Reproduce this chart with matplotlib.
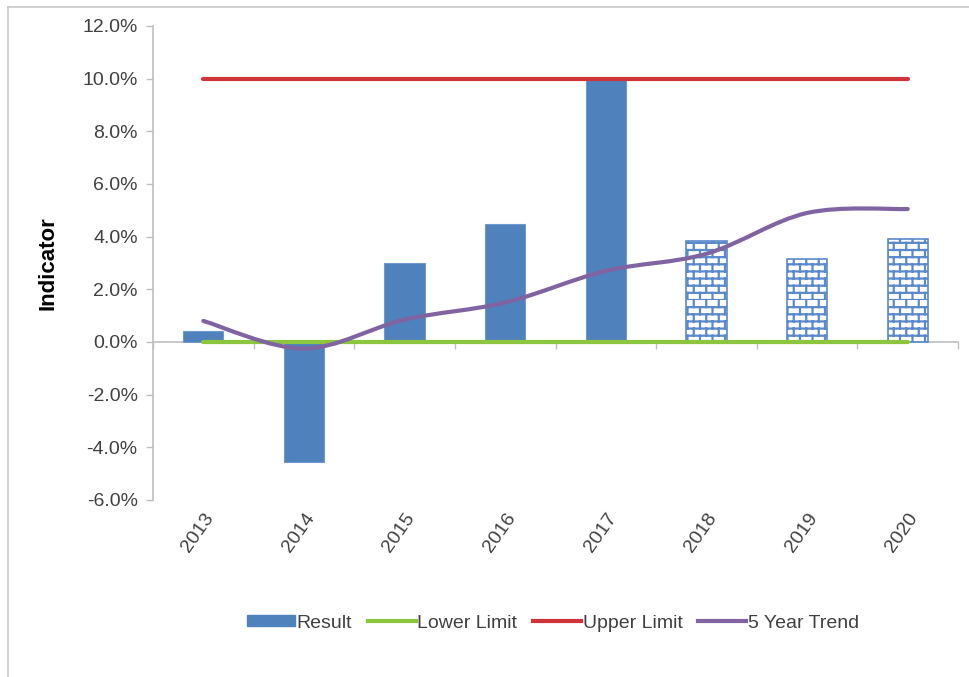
import numpy as np
import matplotlib
matplotlib.use("Agg")
import matplotlib.pyplot as plt
from matplotlib import hatch as mhatch
from matplotlib.path import Path
from matplotlib.patches import PathPatch, Patch
from matplotlib.lines import Line2D
from matplotlib.ticker import FuncFormatter, FixedLocator

# ---- data -------------------------------------------------------------
years = ["2013", "2014", "2015", "2016", "2017", "2018", "2019", "2020"]
result = [0.40, -4.55, 3.00, 4.47, 10.00, 3.83, 3.14, 3.90]       # %
projected = [False, False, False, False, False, True, True, True]
lower_limit = [0.0] * 8
upper_limit = [10.0] * 8
trend = [0.80, -0.25, 0.85, 1.50, 2.70, 3.35, 4.90, 5.05]         # %
y_ticks = [-6, -4, -2, 0, 2, 4, 6, 8, 10, 12]

BLUE = "#4F81BD"
GREEN = "#8CC63F"
RED = "#D13438"
PURPLE = "#8064A2"
TEXT = "#404040"
AXIS = "#BFBFBF"
FS = 14


# ---- brick hatch used for projected years -----------------------------
class BrickHatch(mhatch.HatchPatternBase):
    """Running-bond brick pattern, selected with the '+' hatch char."""

    def __init__(self, hatch, density):
        n = hatch.count("+")
        self.rows = 14 if n else 0
        self.cols = 8
        self.num_vertices = (self.rows * 2 + self.rows * (self.cols + 1) * 2) if n else 0

    def set_vertices_and_codes(self, vertices, codes):
        k = 0
        rh = 1.0 / self.rows
        for i in range(self.rows):
            y0 = i * rh
            vertices[k] = (0.0, y0)
            vertices[k + 1] = (1.0, y0)
            codes[k] = Path.MOVETO
            codes[k + 1] = Path.LINETO
            k += 2
            off = 0.5 / self.cols if i % 2 else 0.0
            for j in range(self.cols + 1):
                x = j / self.cols + off
                vertices[k] = (x, y0)
                vertices[k + 1] = (x, y0 + rh)
                codes[k] = Path.MOVETO
                codes[k + 1] = Path.LINETO
                k += 2


mhatch._hatch_types = [BrickHatch]

plt.rcParams["font.family"] = ["Liberation Sans", "DejaVu Sans"]
plt.rcParams["hatch.linewidth"] = 1.6

fig = plt.figure(figsize=(9.69, 6.77), dpi=100)
ax = fig.add_axes([153 / 969, 1 - 500 / 677, (958 - 153) / 969, (500 - 26) / 677])

x = np.arange(len(years))

# bars
for xi, v, proj in zip(x, result, projected):
    if proj:
        ax.bar(xi, v, width=0.4, facecolor="white", edgecolor="#5A8ACB",
               hatch="+", linewidth=1.2, zorder=2)
    else:
        ax.bar(xi, v, width=0.4, color=BLUE, edgecolor="#6F9AD0",
               linewidth=0.8, zorder=2)

# x axis line at zero with category-boundary ticks
sec = ax.secondary_xaxis((0 - y_ticks[0]) / (y_ticks[-1] - y_ticks[0]))
sec.xaxis.set_major_locator(FixedLocator(np.arange(-0.5, len(years), 1.0)))
sec.tick_params(axis="x", length=5, width=1, color=AXIS, labelbottom=False)
sec.spines["bottom"].set_color(AXIS)
sec.spines["bottom"].set_linewidth(1.2)

# limits
ax.plot(x, lower_limit, color=GREEN, lw=3, solid_capstyle="round", zorder=3)
ax.plot(x, upper_limit, color=RED, lw=3, solid_capstyle="round", zorder=3)

# smoothed trend (Catmull-Rom converted to cubic Bezier segments)
pts = np.column_stack([x, trend]).astype(float)
ext = np.vstack([pts[0], pts, pts[-1]])
verts = [tuple(pts[0])]
codes = [Path.MOVETO]
for i in range(len(pts) - 1):
    p0, p1, p2, p3 = ext[i], ext[i + 1], ext[i + 2], ext[i + 3]
    c1 = p1 + (p2 - p0) / 6.0
    c2 = p2 - (p3 - p1) / 6.0
    verts += [tuple(c1), tuple(c2), tuple(p2)]
    codes += [Path.CURVE4] * 3
ax.add_patch(PathPatch(Path(verts, codes), facecolor="none", edgecolor=PURPLE,
                       lw=3, capstyle="round", zorder=4))

# axes styling
ax.set_xlim(-0.5, len(years) - 0.5)
ax.set_ylim(y_ticks[0], y_ticks[-1])
ax.set_yticks(y_ticks)
ax.yaxis.set_major_formatter(FuncFormatter(lambda v, p: f"{v:.1f}%"))
ax.set_xticks(x)
ax.set_xticklabels(years, rotation=55, ha="right", va="top",
                   rotation_mode="anchor")
ax.tick_params(axis="x", length=0, pad=7, labelsize=FS, labelcolor=TEXT)
ax.tick_params(axis="y", length=5, width=1, color=AXIS, pad=6,
               labelsize=FS, labelcolor=TEXT)
for s in ("top", "right", "bottom"):
    ax.spines[s].set_visible(False)
ax.spines["left"].set_color(AXIS)
ax.spines["left"].set_linewidth(1.2)

fig.text(48 / 969, 1 - 263 / 677, "Indicator", rotation=90, ha="center",
         va="center", fontsize=16, fontweight="bold", color="black")

# legend
handles = [
    Patch(facecolor=BLUE, edgecolor=BLUE),
    Line2D([], [], color=GREEN, lw=3),
    Line2D([], [], color=RED, lw=3),
    Line2D([], [], color=PURPLE, lw=3),
]
labels = ["Result", "Lower Limit", "Upper Limit", "5 Year Trend"]
fig.legend(handles, labels, loc="center", bbox_to_anchor=(553 / 969, 1 - 623 / 677),
           ncol=4, frameon=False, fontsize=FS, handlelength=2.45,
           handleheight=0.55, handletextpad=0.1, columnspacing=0.8,
           labelcolor=TEXT)

# outer chart frame
fig.add_artist(Line2D([8 / 969, 8 / 969], [0, 1 - 7 / 677], color="#C8C8C8",
                      lw=1.2, transform=fig.transFigure))
fig.add_artist(Line2D([8 / 969, 1], [1 - 7 / 677, 1 - 7 / 677], color="#C8C8C8",
                      lw=1.2, transform=fig.transFigure))

fig.savefig("out.png", dpi=100)
